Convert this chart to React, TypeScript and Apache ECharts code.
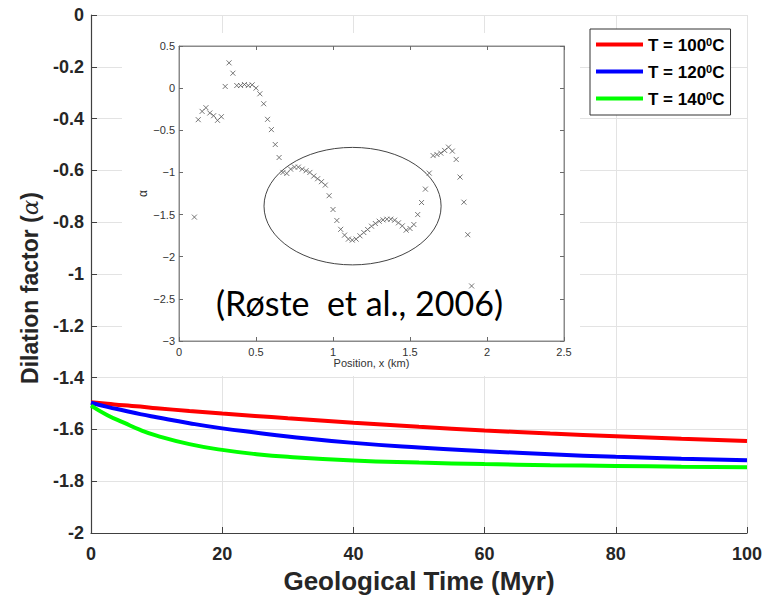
import React, { useEffect, useRef } from "react";
import * as echarts from "echarts";

// ---- main chart data ----
const timeMyr = [0, 2.5, 5, 7.5, 10, 15, 20, 25, 30, 40, 50, 60, 70, 80, 90, 100];
const alpha100 = [-1.495, -1.501, -1.507, -1.512, -1.518, -1.529, -1.539, -1.548, -1.557, -1.574, -1.59, -1.604, -1.616, -1.626, -1.636, -1.645];
const alpha120 = [-1.497, -1.513, -1.527, -1.541, -1.553, -1.576, -1.596, -1.612, -1.627, -1.652, -1.67, -1.684, -1.696, -1.706, -1.713, -1.719];
const alpha140 = [-1.508, -1.545, -1.574, -1.602, -1.624, -1.657, -1.679, -1.695, -1.706, -1.72, -1.728, -1.734, -1.738, -1.741, -1.744, -1.746];
const temps = ["100", "120", "140"];
const lineColors = ["#ff0000", "#0000ff", "#00ff00"];

// ---- inset (Røste et al., 2006) data ----
const insetPos = [0.1, 0.125, 0.15, 0.175, 0.2, 0.225, 0.25, 0.275, 0.3, 0.325, 0.35, 0.375, 0.4, 0.425, 0.45, 0.475, 0.5, 0.525, 0.55, 0.575, 0.6, 0.625, 0.65, 0.675, 0.7, 0.725, 0.75, 0.775, 0.8, 0.825, 0.85, 0.875, 0.9, 0.925, 0.95, 0.975, 1.0, 1.025, 1.05, 1.075, 1.1, 1.125, 1.15, 1.175, 1.2, 1.225, 1.25, 1.275, 1.3, 1.325, 1.35, 1.375, 1.4, 1.425, 1.45, 1.475, 1.5, 1.525, 1.55, 1.575, 1.6, 1.625, 1.65, 1.675, 1.7, 1.725, 1.75, 1.775, 1.8, 1.825, 1.85, 1.875, 1.9];
const insetAlpha = [-1.53, -0.374, -0.276, -0.232, -0.295, -0.327, -0.382, -0.339, 0.02, 0.3, 0.177, 0.031, 0.031, 0.043, 0.031, 0.039, 0, -0.067, -0.185, -0.37, -0.492, -0.669, -0.823, -1.0, -1.012, -0.961, -0.937, -0.937, -0.961, -0.98, -1.0, -1.043, -1.075, -1.11, -1.15, -1.276, -1.44, -1.57, -1.675, -1.744, -1.791, -1.803, -1.791, -1.752, -1.713, -1.677, -1.638, -1.606, -1.579, -1.563, -1.555, -1.555, -1.567, -1.598, -1.634, -1.685, -1.665, -1.618, -1.5, -1.357, -1.198, -1.008, -0.8, -0.787, -0.771, -0.739, -0.7, -0.747, -0.846, -1.055, -1.353, -1.739, -2.347];
// ellipse annotation in inset data units: [centerX, centerY, radiusX, radiusY]
const ellipseData = [1.127, -1.4, 0.575, 0.697];
const citation = "(Røste  et al., 2006)";

const AX = "#262626";
const FONT = "'Liberation Sans', Arial, sans-serif";
const minusFmt = (v: number) => String(v).replace("-", "\u2212");

export default function App() {
  const ref = useRef<HTMLDivElement>(null);
  useEffect(() => {
    if (!ref.current) return;
    const chart = echarts.init(ref.current, undefined, { renderer: "svg" });
    const mainSeries = [alpha100, alpha120, alpha140].map((vals, i) => ({
      name: `T = ${temps[i]}`,
      type: "line",
      xAxisIndex: 0,
      yAxisIndex: 0,
      smooth: true,
      showSymbol: false,
      color: lineColors[i],
      lineStyle: { width: 4, color: lineColors[i] },
      data: timeMyr.map((t, k) => [t, vals[k]]),
      z: 2,
    }));
    const insetTickCommon = {
      gridIndex: 1,
      z: 3,
      axisLine: { show: true, onZero: false, lineStyle: { color: "#8a8a8a", width: 1 } },
      axisTick: { show: true, inside: true, length: 4, lineStyle: { color: "#6a6a6a" } },
      splitLine: { show: false },
    };
    const option: any = {
      animation: false,
      backgroundColor: "#fff",
      textStyle: { fontFamily: FONT },
      grid: [
        { left: 91, right: 30, top: 15, bottom: 67 },
        { left: 179, right: 213, top: 46, bottom: 259, show: true, borderColor: "#8a8a8a", borderWidth: 1, backgroundColor: "transparent", z: 3 },
      ],
      legend: {
        orient: "vertical",
        left: 590,
        top: 29,
        data: temps.map((t) => `T = ${t}`),
        icon: "rect",
        itemWidth: 47,
        itemHeight: 4,
        itemGap: 9,
        backgroundColor: "#fff",
        borderColor: "#333",
        borderWidth: 1,
        padding: [7, 6, 7, 6],
        formatter: (name: string) => `{a|${name}}{s|0}{a|C}`,
        textStyle: {
          rich: {
            a: { fontSize: 17, fontWeight: "bold", color: "#000", fontFamily: FONT, verticalAlign: "bottom", lineHeight: 19 },
            s: { fontSize: 11, fontWeight: "bold", color: "#000", fontFamily: FONT, verticalAlign: "bottom", padding: [0, 0, 7, 0] },
          },
        },
      },
      xAxis: [
        {
          type: "value",
          gridIndex: 0,
          min: 0,
          max: 100,
          interval: 20,
          name: "Geological Time (Myr)",
          nameLocation: "middle",
          nameGap: 35,
          nameTextStyle: { fontSize: 26, fontWeight: "bold", color: AX, fontFamily: FONT },
          axisLine: { show: true, onZero: false, lineStyle: { color: "#404040", width: 1.2 } },
          axisTick: { show: true, inside: true, length: 6, lineStyle: { color: "#404040" } },
          axisLabel: { fontSize: 18, fontWeight: "bold", color: AX, margin: 12, fontFamily: FONT },
          splitLine: { show: true, lineStyle: { color: "#e3e3e3", width: 1 } },
        },
        {
          type: "value",
          ...insetTickCommon,
          min: 0,
          max: 2.5,
          interval: 0.5,
          position: "bottom",
          name: "Position, x (km)",
          nameLocation: "middle",
          nameGap: 16,
          nameTextStyle: { fontSize: 11, color: "#333", fontFamily: FONT },
          axisLabel: { fontSize: 11, color: "#333", margin: 5, fontFamily: FONT },
        },
        {
          type: "value",
          ...insetTickCommon,
          min: 0,
          max: 2.5,
          interval: 0.5,
          position: "top",
          axisLabel: { show: false },
        },
      ],
      yAxis: [
        {
          type: "value",
          gridIndex: 0,
          min: -2,
          max: 0,
          interval: 0.2,
          name: "Dilation factor ({i|α})",
          nameLocation: "middle",
          nameGap: 50,
          nameTextStyle: {
            fontSize: 23,
            fontWeight: "bold",
            color: AX,
            fontFamily: FONT,
            padding: [0, 28, 0, 0],
            rich: { i: { fontSize: 23, fontStyle: "italic", fontWeight: "normal", color: AX, fontFamily: "'DejaVu Serif', serif" } },
          },
          axisLine: { show: true, onZero: false, lineStyle: { color: "#404040", width: 1.2 } },
          axisTick: { show: true, inside: true, length: 6, lineStyle: { color: "#404040" } },
          axisLabel: { fontSize: 18, fontWeight: "bold", color: AX, margin: 7, fontFamily: FONT },
          splitLine: { show: true, lineStyle: { color: "#e3e3e3", width: 1 } },
        },
        {
          type: "value",
          ...insetTickCommon,
          min: -3,
          max: 0.5,
          interval: 0.5,
          position: "left",
          name: "α",
          nameLocation: "middle",
          nameGap: 30,
          nameTextStyle: { fontSize: 12, color: "#333", fontFamily: FONT },
          axisLabel: { fontSize: 11, color: "#333", margin: 4, fontFamily: FONT, formatter: minusFmt },
        },
        {
          type: "value",
          ...insetTickCommon,
          min: -3,
          max: 0.5,
          interval: 0.5,
          position: "right",
          axisLabel: { show: false },
        },
      ],
      graphic: [
        { id: "insetBg", type: "rect", z: 1, shape: { x: 122, y: 33, width: 458, height: 343 }, style: { fill: "#fff" } },
      ],
      series: [
        ...mainSeries,
        {
          name: "Røste et al. (2006)",
          type: "scatter",
          xAxisIndex: 1,
          yAxisIndex: 1,
          z: 4,
          symbol: "path://M0 0L10 10M10 0L0 10",
          symbolSize: 5,
          itemStyle: { color: "transparent", borderColor: "#555", borderWidth: 1 },
          data: insetPos.map((p, k) => [p, insetAlpha[k]]),
        },
      ],
    };
    chart.setOption(option);
    const c = chart.convertToPixel({ xAxisIndex: 1, yAxisIndex: 1 }, [ellipseData[0], ellipseData[1]]) as number[];
    const e = chart.convertToPixel({ xAxisIndex: 1, yAxisIndex: 1 }, [ellipseData[0] + ellipseData[2], ellipseData[1] + ellipseData[3]]) as number[];
    const t = chart.convertToPixel({ xAxisIndex: 1, yAxisIndex: 1 }, [0.24, -2.54]) as number[];
    chart.setOption({
      graphic: [
        { id: "insetBg", type: "rect", z: 1, shape: { x: 122, y: 33, width: 458, height: 343 }, style: { fill: "#fff" } },
        {
          id: "ellipse",
          type: "ellipse",
          z: 5,
          shape: { cx: c[0], cy: c[1], rx: Math.abs(e[0] - c[0]), ry: Math.abs(c[1] - e[1]) },
          style: { fill: "none", stroke: "#444", lineWidth: 1 },
        },
        {
          id: "cite",
          type: "text",
          z: 6,
          x: t[0],
          y: t[1],
          style: { text: citation, fontSize: 34, fontFamily: "Lato, 'Open Sans', sans-serif", fill: "#000", verticalAlign: "middle", align: "left" },
        },
      ],
    });
    return () => chart.dispose();
  }, []);
  return <div ref={ref} style={{ position: "fixed", left: 0, top: 0, width: 777, height: 600, background: "#fff" }} />;
}
